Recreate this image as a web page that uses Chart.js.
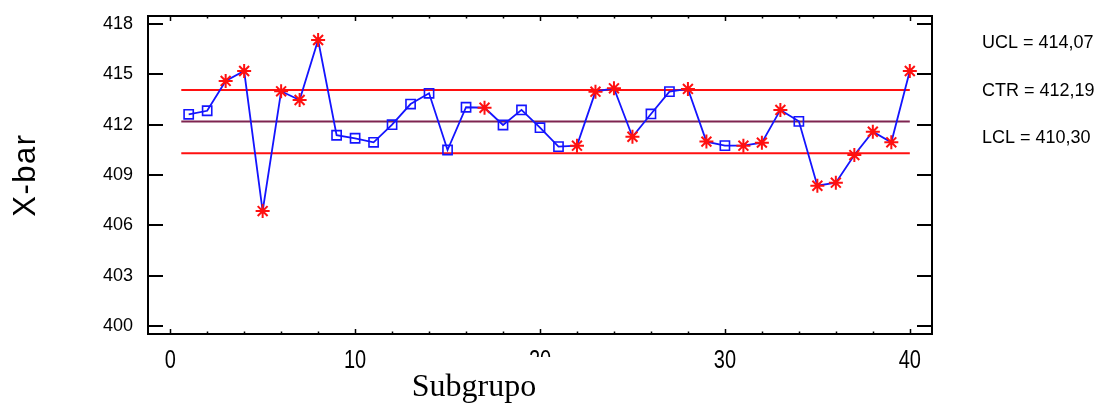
<!DOCTYPE html>
<html><head><meta charset="utf-8">
<script src="https://cdn.jsdelivr.net/npm/chart.js@4/dist/chart.umd.min.js"></script>
<style>html,body{margin:0;padding:0;background:#fff;}canvas{display:block;}</style>
</head><body>
<canvas id="c" width="1105" height="405"></canvas>
<script>
const subgroups = [1,2,3,4,5,6,7,8,9,10,11,12,13,14,15,16,17,18,19,20,21,22,23,24,25,26,27,28,29,30,31,32,33,34,35,36,37,38,39,40];
const xbarValues = [412.62,412.83,414.61,415.20,406.85,413.99,413.47,417.05,411.37,411.19,
                    410.95,412.00,413.23,413.87,410.49,413.04,413.01,411.98,412.88,411.82,
                    410.69,410.75,413.97,414.17,411.28,412.64,413.97,414.13,410.99,410.75,
                    410.75,410.93,412.88,412.20,408.36,408.54,410.19,411.58,410.95,415.20];
const flagged = [0,0,1,1,1,1,1,1,0,0, 0,0,0,0,0,0,1,0,0,0, 0,1,1,1,1,0,0,1,1,0, 1,1,1,0,1,1,1,1,1,1];
const limitNames = ['UCL','CTR','LCL'];
const limitValues = [414.07, 412.19, 410.30];
const limitStart = 0.6;
const xTicks = [0,10,20,30,40];
const xMinorTicks = [2,4,6,8,12,14,16,18,22,24,26,28,32,34,36,38];
const yTicks = [400,403,406,409,412,415,418];
const xTitle = 'Subgrupo';
const yTitle = 'X-bar';

const BLUE = '#1414ff', RED = '#ff1010', CTRCOL = '#7e2450';

const seriesData = subgroups.map((s,i)=>({x:s, y:xbarValues[i]}));
const limitDatasets = limitValues.map((v,i)=>({
  label: limitNames[i],
  data: [{x:limitStart, y:v},{x:subgroups[subgroups.length-1], y:v}],
  borderColor: i===1 ? CTRCOL : RED,
  borderWidth: 2,
  pointRadius: 0,
  fill: false
}));

const decorPlugin = {
  id: 'decor',
  afterDraw(chart){
    const {ctx, chartArea:a, scales:{x,y}} = chart;
    ctx.save();
    ctx.strokeStyle = '#000';
    ctx.lineWidth = 2;
    ctx.strokeRect(a.left, a.top, a.right-a.left, a.bottom-a.top);
    ctx.beginPath();
    yTicks.forEach(v=>{
      const py = Math.round(y.getPixelForValue(v));
      ctx.moveTo(a.left, py); ctx.lineTo(a.left+15, py);
      ctx.moveTo(a.right, py); ctx.lineTo(a.right-15, py);
    });
    ctx.stroke();
    ctx.lineWidth = 1.5;
    ctx.beginPath();
    xTicks.forEach(v=>{
      const px = Math.round(x.getPixelForValue(v))+0.5;
      ctx.moveTo(px, a.bottom); ctx.lineTo(px, a.bottom-5);
      ctx.moveTo(px, a.top); ctx.lineTo(px, a.top+5);
    });
    xMinorTicks.forEach(v=>{
      const px = Math.round(x.getPixelForValue(v))+0.5;
      ctx.moveTo(px, a.bottom); ctx.lineTo(px, a.bottom-2.5);
      ctx.moveTo(px, a.top); ctx.lineTo(px, a.top+2.5);
    });
    ctx.stroke();

    // x tick labels (condensed face, as in the original)
    ctx.fillStyle = '#000';
    ctx.font = '25px "Liberation Sans", Arial, sans-serif';
    ctx.textAlign = 'center';
    ctx.textBaseline = 'alphabetic';
    xTicks.forEach(v=>{
      ctx.save();
      ctx.translate(x.getPixelForValue(v), a.bottom + 34);
      ctx.scale(0.8, 1);
      ctx.fillText(String(v), 0, 0);
      ctx.restore();
    });

    // x title (its white box hides part of a tick label, as in the original)
    ctx.fillStyle = '#fff';
    ctx.fillRect(404, 357, 152, 48);
    ctx.fillStyle = '#000';
    ctx.font = '32px "Liberation Serif", "Times New Roman", serif';
    ctx.fillText(xTitle, 474, 396);

    // y title
    ctx.save();
    ctx.translate(35, 175);
    ctx.rotate(-Math.PI/2);
    ctx.font = '31px "Liberation Sans", Arial, sans-serif';
    try { ctx.letterSpacing = '1.5px'; } catch(e){}
    ctx.fillText(yTitle, 0, 0);
    ctx.restore();

    // limit labels
    ctx.font = '18px "Liberation Sans", Arial, sans-serif';
    ctx.textAlign = 'left';
    limitNames.forEach((n,i)=>{
      ctx.fillText(n + ' = ' + limitValues[i].toFixed(2).replace('.', ','), 982, 48 + i*47.5);
    });
    ctx.restore();
  }
};

new Chart(document.getElementById('c'), {
  type: 'line',
  data: {
    datasets: [
      {
        label: yTitle,
        data: seriesData,
        borderColor: BLUE,
        borderWidth: 1.8,
        tension: 0,
        fill: false,
        pointStyle: flagged.map(f => f ? 'star' : 'rect'),
        pointRadius: flagged.map(f => f ? 7 : 6.5),
        pointBorderColor: flagged.map(f => f ? RED : BLUE),
        pointBackgroundColor: 'rgba(0,0,0,0)',
        pointBorderWidth: flagged.map(f => f ? 2 : 1.6)
      },
      ...limitDatasets
    ]
  },
  options: {
    responsive: false,
    animation: false,
    devicePixelRatio: 1,
    layout: { padding: { top: 16, right: 173, left: 0, bottom: 0 } },
    plugins: { legend: { display: false }, tooltip: { enabled: false } },
    scales: {
      x: {
        type: 'linear',
        min: -1.2, max: 41.2,
        grid: { display: false, drawTicks: false },
        border: { display: false },
        afterBuildTicks: s => { s.ticks = xTicks.map(v=>({value:v})); },
        afterFit: s => { s.height = 71; s.paddingLeft = 0; s.paddingRight = 0; },
        ticks: { display: false }
      },
      y: {
        type: 'linear',
        min: 399.52, max: 418.48,
        grid: { display: false, drawTicks: false },
        border: { display: false },
        afterBuildTicks: s => { s.ticks = yTicks.map(v=>({value:v})); },
        afterFit: s => { s.width = 148; s.paddingTop = 0; s.paddingBottom = 0; },
        ticks: {
          padding: 15,
          color: '#000',
          font: { family: '"Liberation Sans", Arial', size: 18 }
        }
      }
    }
  },
  plugins: [decorPlugin]
});
</script>
</body></html>
